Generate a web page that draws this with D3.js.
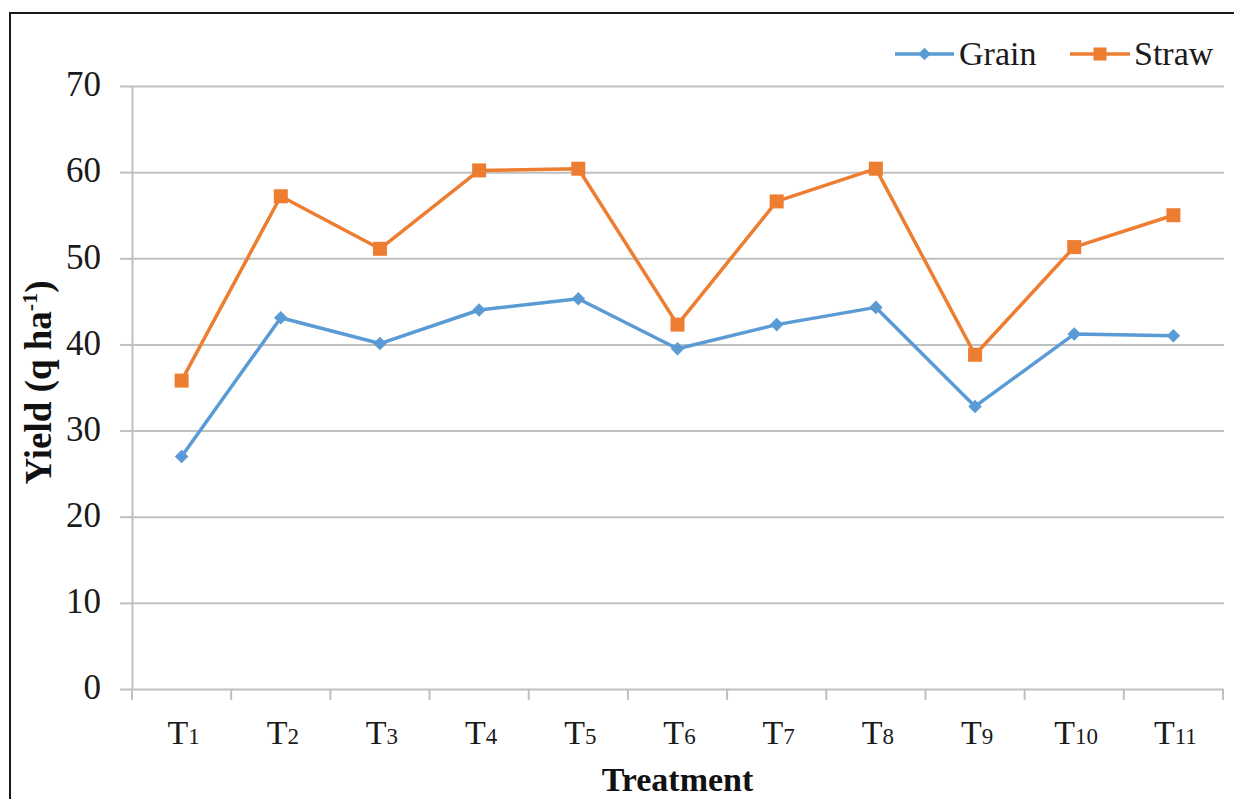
<!DOCTYPE html>
<html>
<head>
<meta charset="utf-8">
<script src="https://cdn.jsdelivr.net/npm/d3@7"></script>
<style>
  html, body { margin: 0; padding: 0; background: #fff; }
  svg { display: block; }
</style>
</head>
<body>
<svg id="chart" width="1234" height="799"></svg>
<script>
const categories = ["T1","T2","T3","T4","T5","T6","T7","T8","T9","T10","T11"];
const grain = [27.0, 43.1, 40.1, 44.0, 45.3, 39.5, 42.3, 44.3, 32.8, 41.2, 41.0];
const straw = [35.8, 57.2, 51.1, 60.2, 60.4, 42.3, 56.6, 60.4, 38.8, 51.3, 55.0];
const yTicks = [0, 10, 20, 30, 40, 50, 60, 70];
const seriesNames = ["Grain", "Straw"];

const svg = d3.select("#chart");
const pLeft = 132, pRight = 1223, pTop = 86, pBottom = 689;
const blue = "#5B9BD5", orange = "#ED7D31", grid = "#BFBFBF";
const font = "'Liberation Serif', 'Times New Roman', serif";

svg.append("rect").attr("width", 1234).attr("height", 799).attr("fill", "#fff");
// frame (only left/top visible)
svg.append("rect").attr("x", 10).attr("y", 13).attr("width", 1300).attr("height", 900)
  .attr("fill", "none").attr("stroke", "#1a1a1a").attr("stroke-width", 2);

const x = d3.scaleBand().domain(categories).range([pLeft, pRight]).padding(0);
const y = d3.scaleLinear().domain([0, 70]).range([pBottom, pTop]);

// gridlines
const gridAxis = svg.append("g").attr("transform", `translate(${pLeft},0)`)
  .call(d3.axisLeft(y).tickValues(yTicks.filter(v => v > 0)).tickSizeInner(-(pRight - pLeft + 1)).tickSizeOuter(0).tickFormat(""));
gridAxis.select(".domain").remove();
gridAxis.selectAll("line").attr("stroke", grid).attr("stroke-width", 2);

// y axis with short ticks and labels
const yAxis = svg.append("g").attr("transform", `translate(${pLeft},0)`)
  .call(d3.axisLeft(y).tickValues(yTicks).tickSizeInner(12).tickSizeOuter(0).tickPadding(19));
yAxis.select(".domain").attr("stroke", grid).attr("stroke-width", 2);
yAxis.selectAll("line").attr("stroke", grid).attr("stroke-width", 2);
yAxis.selectAll("text").attr("font-family", font).attr("font-size", 35).attr("fill", "#1a1a1a")
  .attr("dy", "0.28em");

// x axis
const xAxis = svg.append("g").attr("transform", `translate(0,${pBottom})`)
  .call(d3.axisBottom(x).tickSize(0).tickFormat(""));
xAxis.select(".domain").attr("stroke", grid).attr("stroke-width", 2);
// boundary ticks
const edges = categories.map(c => x(c)).concat([x(categories[categories.length - 1]) + x.bandwidth()]);
svg.append("g").selectAll("line").data(edges).join("line")
  .attr("x1", d => d).attr("x2", d => d).attr("y1", pBottom).attr("y2", pBottom + 11)
  .attr("stroke", grid).attr("stroke-width", 2);

// x tick labels with subscripts
const lbl = svg.append("g").selectAll("text").data(categories).join("text")
  .attr("x", d => x(d) + x.bandwidth() / 2 + 2)
  .attr("y", 744)
  .attr("text-anchor", "middle")
  .attr("font-family", font).attr("font-size", 34).attr("fill", "#1a1a1a");
lbl.append("tspan").text(d => d.slice(0, 1));
lbl.append("tspan").attr("font-size", 23).text(d => d.slice(1));

// axis titles
svg.append("text").attr("x", (pLeft + pRight) / 2).attr("y", 791).attr("text-anchor", "middle")
  .attr("font-family", font).attr("font-weight", "bold").attr("font-size", 34).attr("fill", "#111")
  .text("Treatment");
const yt = svg.append("text").attr("transform", `translate(51,${(pTop + pBottom) / 2 - 5}) rotate(-90)`)
  .attr("text-anchor", "middle")
  .attr("font-family", font).attr("font-weight", "bold").attr("font-size", 37).attr("fill", "#111");
yt.append("tspan").text("Yield (q ha");
yt.append("tspan").attr("font-size", 22).attr("dy", -14).text("-1");
yt.append("tspan").attr("dy", 14).text(")");

// lines and markers
const cx = d => x(d) + x.bandwidth() / 2;
const line = d3.line().x(d => cx(d.c)).y(d => y(d.v));
const gData = categories.map((c, i) => ({c, v: grain[i]}));
const sData = categories.map((c, i) => ({c, v: straw[i]}));

svg.append("path").datum(gData).attr("d", line).attr("fill", "none")
  .attr("stroke", blue).attr("stroke-width", 3.5).attr("stroke-linejoin", "round");
svg.append("path").datum(sData).attr("d", line).attr("fill", "none")
  .attr("stroke", orange).attr("stroke-width", 3.5).attr("stroke-linejoin", "round");

svg.append("g").selectAll("path").data(gData).join("path")
  .attr("d", d3.symbol().type(d3.symbolSquare).size(92)())
  .attr("transform", d => `translate(${cx(d.c)},${y(d.v)}) rotate(45)`)
  .attr("fill", blue);
svg.append("g").selectAll("rect").data(sData).join("rect")
  .attr("x", d => cx(d.c) - 7).attr("y", d => y(d.v) - 7)
  .attr("width", 14).attr("height", 14).attr("fill", orange);

// legend
const leg = svg.append("g");
const legItems = [
  {name: seriesNames[0], color: blue, x0: 895, x1: 954, tx: 959, type: "d"},
  {name: seriesNames[1], color: orange, x0: 1070, x1: 1130, tx: 1134, type: "s"}
];
legItems.forEach(it => {
  leg.append("line").attr("x1", it.x0).attr("x2", it.x1).attr("y1", 54).attr("y2", 54)
    .attr("stroke", it.color).attr("stroke-width", 3.5);
  const mx = (it.x0 + it.x1) / 2;
  if (it.type === "d") {
    leg.append("path").attr("d", d3.symbol().type(d3.symbolSquare).size(80)())
      .attr("transform", `translate(${mx},54) rotate(45)`).attr("fill", it.color);
  } else {
    leg.append("rect").attr("x", mx - 6.5).attr("y", 47.5).attr("width", 13).attr("height", 13).attr("fill", it.color);
  }
  leg.append("text").attr("x", it.tx).attr("y", 65).attr("font-family", font).attr("font-size", 34)
    .attr("fill", "#1a1a1a").text(it.name);
});
</script>
</body>
</html>
